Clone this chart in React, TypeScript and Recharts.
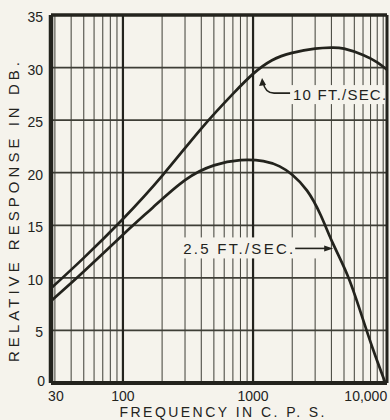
import {
  LineChart,
  Line,
  XAxis,
  YAxis,
  CartesianGrid,
  ReferenceLine,
  ReferenceDot,
} from "recharts";

// 10 ft/sec curve (frequency in c.p.s., response in dB)
const fastFreq = [28, 50, 100, 200, 400, 700, 1000, 1400, 2000, 3000, 4000, 5000, 7000, 9000, 10700];
const fastDb = [9.0, 11.9, 15.6, 19.7, 24.2, 27.5, 29.4, 30.7, 31.4, 31.8, 31.9, 31.8, 31.2, 30.5, 29.8];

// 2.5 ft/sec curve
const slowFreq = [28, 50, 100, 170, 300, 500, 800, 1200, 1600, 2000, 2600, 3300, 4100, 5300, 6600, 8300, 10400];
const slowDb = [7.8, 10.6, 14.1, 16.7, 19.3, 20.7, 21.2, 21.1, 20.6, 19.8, 18.3, 16.0, 13.3, 10.3, 7.0, 3.3, 0];

const gridFreqs = [
  30, 40, 50, 60, 70, 80, 90, 100, 200, 300, 400, 500, 600, 700, 800, 900,
  1000, 2000, 3000, 4000, 5000, 6000, 7000, 8000, 9000, 10000,
];
const decadeFreqs = [100, 1000];
const freqLabels: Record<number, string> = { 30: "30", 100: "100", 1000: "1000", 10000: "10,000" };
const dbTicks = [0, 5, 10, 15, 20, 25, 30, 35];

const fastLabel = "10 FT./SEC.";
const slowLabel = "2.5 FT./SEC.";
const xTitle = "FREQUENCY IN C. P. S.";
const yTitle = "RELATIVE RESPONSE IN DB.";

const BG = "#f5f3ec";
const INK = "#23231d";
const GRID = "#3e3e36";
const FONT = "'Liberation Sans', Arial, sans-serif";

const fastData = fastFreq.map((f, i) => ({ f, db: fastDb[i] }));
const slowData = slowFreq.map((f, i) => ({ f, db: slowDb[i] }));

const FreqTick = ({ x, y, payload }: any) => {
  const text = freqLabels[payload.value];
  if (!text) return null;
  const last = payload.value === 10000;
  return (
    <text
      x={last ? x + 4 : payload.value === 30 ? x + 1 : x}
      y={y}
      dy="0.71em"
      textAnchor={last ? "end" : "middle"}
      fontSize={14}
      fontFamily={FONT}
      fill={INK}
    >
      {text}
    </text>
  );
};

const DbTick = ({ x, y, payload }: any) => {
  const zero = payload.value === 0;
  return (
    <text
      x={zero ? x + 2 : x}
      y={zero ? y - 2 : y + 2}
      dy="0.36em"
      textAnchor="end"
      fontSize={14}
      fontFamily={FONT}
      fill={INK}
    >
      {payload.value}
    </text>
  );
};

const FastNote = ({ cx, cy }: any) => (
  <g>
    <rect x={cx + 27} y={cy + 7} width={96} height={19} fill={BG} />
    <path
      d={`M${cx + 1},${cy + 4} Q${cx + 3},${cy + 15} ${cx + 12},${cy + 15} L${cx + 28},${cy + 15}`}
      stroke={INK}
      strokeWidth={1.6}
      fill="none"
    />
    <polygon points={`${cx},${cy} ${cx - 3},${cy + 8} ${cx + 4},${cy + 7}`} fill={INK} />
    <text
      x={cx + 31}
      y={cy + 22}
      fontSize={15}
      fontFamily={FONT}
      fill={INK}
      textLength={93}
      lengthAdjust="spacing"
    >
      {fastLabel}
    </text>
  </g>
);

const SlowNote = ({ cx, cy }: any) => (
  <g>
    <rect x={cx - 154} y={cy - 11} width={148} height={21} fill={BG} />
    <line x1={cx - 38} y1={cy} x2={cx - 7} y2={cy} stroke={INK} strokeWidth={1.6} />
    <polygon points={`${cx},${cy} ${cx - 9},${cy - 3} ${cx - 9},${cy + 3}`} fill={INK} />
    <text
      x={cx - 150}
      y={cy + 6}
      fontSize={15}
      fontFamily={FONT}
      fill={INK}
      textLength={110}
      lengthAdjust="spacing"
    >
      {slowLabel}
    </text>
  </g>
);

const XTitle = ({ viewBox }: any) => (
  <text
    x={viewBox.x + viewBox.width / 2 + 3}
    y={viewBox.y + 34}
    textAnchor="middle"
    fontSize={14}
    fontFamily={FONT}
    fill={INK}
    textLength={205}
    lengthAdjust="spacing"
  >
    {xTitle}
  </text>
);

const YTitle = ({ viewBox }: any) => {
  const x = viewBox.x + 13;
  const y = viewBox.y + viewBox.height / 2 + 13;
  return (
    <text
      x={x}
      y={y}
      transform={`rotate(-90, ${x}, ${y})`}
      textAnchor="middle"
      dominantBaseline="central"
      fontSize={15}
      fontFamily={FONT}
      fill={INK}
      textLength={300}
      lengthAdjust="spacing"
    >
      {yTitle}
    </text>
  );
};

export default function App() {
  return (
    <div style={{ position: "absolute", left: 0, top: 0, width: 390, height: 420, background: BG }}>
      <LineChart width={390} height={420} margin={{ top: 15, right: 3, bottom: 0, left: 0 }}>
        <CartesianGrid horizontal={false} stroke={GRID} strokeWidth={1} />
        <CartesianGrid vertical={false} stroke={GRID} strokeWidth={1.8} />
        <XAxis
          dataKey="f"
          type="number"
          scale="log"
          domain={[28, 10700]}
          allowDataOverflow
          ticks={gridFreqs}
          interval={0}
          tickSize={0}
          tickMargin={8}
          axisLine={false}
          tickLine={false}
          height={37}
          tick={<FreqTick />}
          label={{ content: XTitle }}
        />
        <YAxis
          type="number"
          domain={[0, 35]}
          ticks={dbTicks}
          interval={0}
          tickSize={0}
          tickMargin={8}
          axisLine={false}
          tickLine={false}
          width={51}
          tick={<DbTick />}
          label={{ content: YTitle }}
        />
        {decadeFreqs.map((f) => (
          <ReferenceLine key={f} x={f} stroke={INK} strokeWidth={2.2} />
        ))}
        <ReferenceLine x={28} stroke={INK} strokeWidth={4.5} />
        <ReferenceLine x={10700} stroke={INK} strokeWidth={3} />
        <ReferenceLine y={35} stroke={INK} strokeWidth={3.5} />
        <ReferenceLine y={0} stroke={INK} strokeWidth={4} />
        <ReferenceDot x={1173} y={29.0} r={0} shape={<FastNote />} />
        <ReferenceDot x={4130} y={12.8} r={0} shape={<SlowNote />} />
        <Line
          data={fastData}
          dataKey="db"
          type="natural"
          stroke={INK}
          strokeWidth={2.7}
          dot={false}
          isAnimationActive={false}
        />
        <Line
          data={slowData}
          dataKey="db"
          type="natural"
          stroke={INK}
          strokeWidth={2.7}
          dot={false}
          isAnimationActive={false}
        />
      </LineChart>
    </div>
  );
}
